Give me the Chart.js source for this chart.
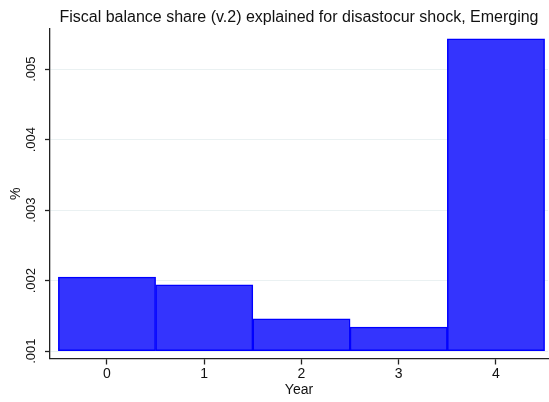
<!DOCTYPE html>
<html>
<head>
<meta charset="utf-8">
<script src="https://cdn.jsdelivr.net/npm/chart.js@4.4.1/dist/chart.umd.min.js"></script>
<style>
  html, body { margin: 0; padding: 0; background: #fff; }
</style>
</head>
<body>
<canvas id="display_chart" width="549" height="402"></canvas>
<script>
// Chart values
const titleText = "Fiscal balance share (v.2) explained for disastocur shock, Emerging";
const years = [0, 1, 2, 3, 4];
const yearLabels = ["0", "1", "2", "3", "4"];
const shares = [0.00205, 0.00194, 0.00146, 0.00134, 0.00543];
const barBase = 0.001;
const yTicks = [0.001, 0.002, 0.003, 0.004, 0.005];
const yTickLabels = [".001", ".002", ".003", ".004", ".005"];

const FONT = "'Liberation Sans', Arial, sans-serif";

// title is centred over the plot region, not the whole canvas
const plotTitle = {
  id: "plotTitle",
  afterDraw(chart) {
    const c = chart.ctx;
    const area = chart.chartArea;
    c.save();
    c.font = "16px " + FONT;
    c.fillStyle = "#111";
    c.textAlign = "center";
    c.textBaseline = "alphabetic";
    c.fillText(titleText, (area.left + area.right) / 2, 21.5);
    c.restore();
  }
};

let data = {
  datasets: [{
    label: "share",
    data: years.map((yr, i) => ({ x: yr, y: shares[i] })),
    base: barBase,
    backgroundColor: "#3434fd",
    borderColor: "#0000ff",
    borderWidth: 1.5,
    borderSkipped: false,
    categoryPercentage: 1,
    barPercentage: 1
  }]
};

const options = {
  responsive: false,
  animation: false,
  devicePixelRatio: 1,
  layout: {
    padding: { top: 29, left: 0, right: 1, bottom: 0 }
  },
  plugins: {
    legend: { display: false },
    tooltip: { enabled: false }
  },
  scales: {
    x: {
      type: "linear",
      offset: false,
      min: -0.586,
      max: 4.535,
      afterBuildTicks: (scale) => {
        scale.ticks = years.map(v => ({ value: v }));
      },
      afterFit: (scale) => { scale.height = 43.5; },
      ticks: {
        callback: (val, i) => yearLabels[i],
        font: { family: FONT, size: 14 },
        color: "#111",
        padding: 1,
        maxRotation: 0
      },
      grid: {
        offset: false,
        drawOnChartArea: false,
        drawTicks: true,
        tickLength: 6,
        tickColor: "#222",
        tickWidth: 1.3
      },
      border: { display: true, color: "#222", width: 1.3 },
      title: {
        display: true,
        text: "Year",
        font: { family: FONT, size: 14 },
        color: "#111",
        padding: { top: 0, bottom: 3.6 }
      }
    },
    y: {
      type: "linear",
      min: 0.000896,
      max: 0.00557,
      afterBuildTicks: (scale) => {
        scale.ticks = yTicks.map(v => ({ value: v }));
      },
      afterFit: (scale) => { scale.width = 50; },
      ticks: {
        callback: (val, i) => yTickLabels[i],
        font: { family: FONT, size: 13 },
        color: "#111",
        minRotation: 90,
        maxRotation: 90,
        crossAlign: "center",
        padding: 0.5
      },
      grid: {
        color: "#eaf1f2",
        lineWidth: 1,
        drawTicks: true,
        tickLength: 5,
        tickColor: "#222",
        tickWidth: 1.3
      },
      border: { display: true, color: "#222", width: 1.3 },
      title: {
        display: true,
        text: "%",
        font: { family: FONT, size: 14 },
        color: "#111",
        padding: { top: 7.6, bottom: 0 }
      }
    }
  }
};

const chart = new Chart(document.getElementById("display_chart").getContext("2d"), {
  type: "bar",
  data: data,
  options: options,
  plugins: [plotTitle]
});
</script>
</body>
</html>
